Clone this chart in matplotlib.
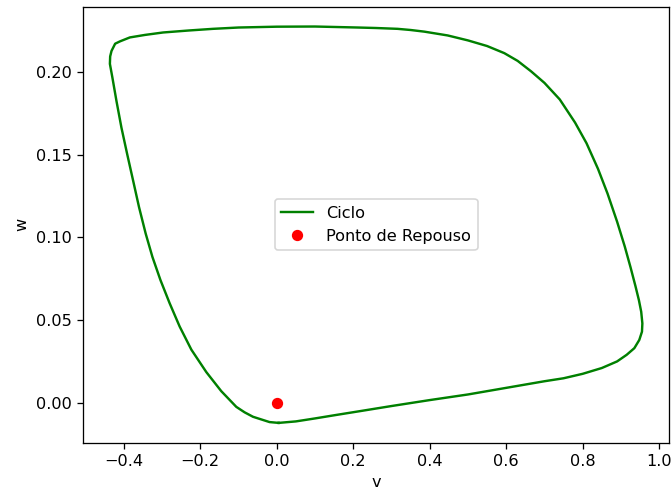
import matplotlib
matplotlib.use("Agg")
import matplotlib.pyplot as plt

# limit cycle in the (v, w) phase plane, traced once around
v = [0.005, 0.05, 0.10, 0.15, 0.22, 0.30, 0.40, 0.50, 0.60, 0.65,
     0.70, 0.75, 0.80, 0.85, 0.89, 0.915, 0.935, 0.948, 0.955, 0.956,
     0.953, 0.947, 0.938, 0.925, 0.91, 0.89, 0.865, 0.84, 0.81, 0.78,
     0.74, 0.70, 0.665, 0.63, 0.595, 0.55, 0.50, 0.447, 0.386, 0.35,
     0.316, 0.26, 0.212, 0.10, 0.0, -0.10, -0.1666, -0.23, -0.297, -0.345,
     -0.384, -0.41, -0.4225, -0.432, -0.4355, -0.4362, -0.4295, -0.419, -0.406, -0.391,
     -0.3755, -0.360, -0.3426, -0.325, -0.304, -0.280, -0.2538, -0.2232, -0.184, -0.145,
     -0.1057, -0.084, -0.062, -0.0188, 0.005]
w = [-0.0122, -0.0113, -0.0095, -0.0076, -0.005, -0.002, 0.0016, 0.005, 0.009, 0.011,
     0.013, 0.0148, 0.0175, 0.021, 0.025, 0.029, 0.033, 0.038, 0.043, 0.048,
     0.055, 0.062, 0.0705, 0.082, 0.0945, 0.1095, 0.1265, 0.1415, 0.157, 0.1695,
     0.1835, 0.1935, 0.2005, 0.2068, 0.2115, 0.2158, 0.2192, 0.2222, 0.2245, 0.2255,
     0.2262, 0.2267, 0.2270, 0.2276, 0.2275, 0.2270, 0.2262, 0.2252, 0.2240, 0.2225,
     0.2210, 0.2186, 0.2172, 0.2128, 0.2095, 0.2050, 0.1965, 0.1825, 0.1664, 0.1504,
     0.1344, 0.1183, 0.1023, 0.0882, 0.0742, 0.0602, 0.0461, 0.0321, 0.0185, 0.0070,
     -0.0025, -0.0058, -0.0085, -0.0117, -0.0122]

# equilibrium point
v_eq = [0.0]
w_eq = [0.0]

fig = plt.figure(figsize=(671 / 116, 493 / 116), dpi=116)
ax = fig.add_axes([0.1241, 0.102, 0.8729, 0.8844])

ax.plot(v, w, color="green", label="Ciclo")
ax.plot(v_eq, w_eq, "ro", label="Ponto de Repouso")

ax.set_xlabel("v")
ax.set_ylabel("w")
ax.legend(loc="center")

fig.savefig("out.png", dpi=116)
